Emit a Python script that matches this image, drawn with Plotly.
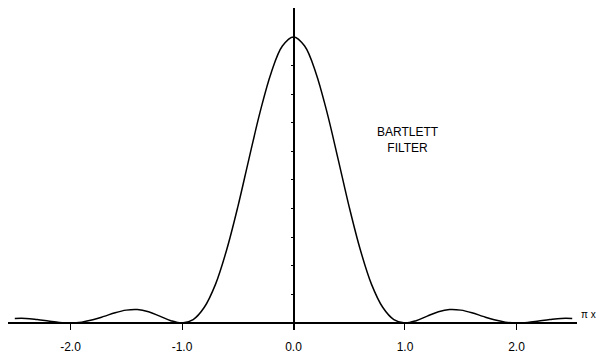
import plotly.graph_objects as go

# Values (amplitude normalised to peak = 1)
freq = [-2.5, -2.4, -2.3, -2.2, -2.1, -2.0, -1.9, -1.8, -1.7, -1.6, -1.5, -1.4, -1.3, -1.2, -1.1,
        -1.0, -0.9, -0.8, -0.7, -0.6, -0.5, -0.4, -0.3, -0.2, -0.1, 0.0,
        0.1, 0.2, 0.3, 0.4, 0.5, 0.6, 0.7, 0.8, 0.9, 1.0,
        1.1, 1.2, 1.3, 1.4, 1.5, 1.6, 1.7, 1.8, 1.9, 2.0, 2.1, 2.2, 2.3, 2.4, 2.5]
response = [0.016, 0.016, 0.012, 0.007, 0.002, 0.0, 0.003, 0.011, 0.023, 0.036, 0.045, 0.047, 0.039, 0.024, 0.008,
            0.0, 0.012, 0.055, 0.135, 0.255, 0.405, 0.573, 0.737, 0.875, 0.968, 1.0,
            0.968, 0.875, 0.737, 0.573, 0.405, 0.255, 0.135, 0.055, 0.012, 0.0,
            0.008, 0.024, 0.039, 0.047, 0.045, 0.036, 0.023, 0.011, 0.003, 0.0, 0.002, 0.007, 0.012, 0.016, 0.016]

x_ticks = [-2.0, -1.0, 0.0, 1.0, 2.0]
x_tick_labels = ["-2.0", "-1.0", "0.0", "1.0", "2.0"]
y_ticks = [0.1, 0.2, 0.3, 0.4, 0.5, 0.6, 0.7, 0.8, 0.9]

x_range = [-2.561, 2.543]
y_range = [-0.0245, 1.101]

fig = go.Figure()
fig.add_trace(go.Scatter(x=freq, y=response, mode="lines", line=dict(color="black", width=1.5, shape="spline"),
                         showlegend=False, hoverinfo="skip"))
# invisible trace for second y axis carrying the small ticks
fig.add_trace(go.Scatter(x=[0], y=[0], yaxis="y2", mode="markers", marker=dict(opacity=0),
                         showlegend=False, hoverinfo="skip"))

zero_pos = (0 - x_range[0]) / (x_range[1] - x_range[0])

fig.update_layout(
    width=596, height=355,
    margin=dict(l=8, r=19, t=8, b=25, autoexpand=False),
    paper_bgcolor="white", plot_bgcolor="white",
    font=dict(family="Liberation Sans, Arial, sans-serif", color="black", size=12),
    xaxis=dict(range=x_range, showgrid=False, zeroline=True, zerolinecolor="black", zerolinewidth=2,
               tickvals=x_ticks, ticktext=x_tick_labels, ticks="inside", ticklen=6, tickcolor="black",
               tickwidth=1, showline=False, ticklabelstandoff=8, tickfont=dict(size=12), automargin=False),
    yaxis=dict(range=y_range, showgrid=False, zeroline=True, zerolinecolor="black", zerolinewidth=1.5,
               showticklabels=False, ticks="", showline=False, automargin=False),
    yaxis2=dict(range=y_range, overlaying="y", anchor="free", position=zero_pos, side="left",
                showgrid=False, zeroline=False, showline=False, tickvals=y_ticks, ticks="outside",
                ticklen=3, tickcolor="black", tickwidth=1, showticklabels=False, automargin=False),
    annotations=[
        dict(x=1.03, y=0.64, xref="x", yref="y", text="BARTLETT<br>FILTER", showarrow=False,
             font=dict(size=12), align="center"),
        dict(x=1.0, y=0.0, xref="paper", yref="y", text="π x", showarrow=False, xanchor="left",
             yanchor="bottom", xshift=2, yshift=1, font=dict(size=10)),
    ],
)

fig.write_html("out.html")
